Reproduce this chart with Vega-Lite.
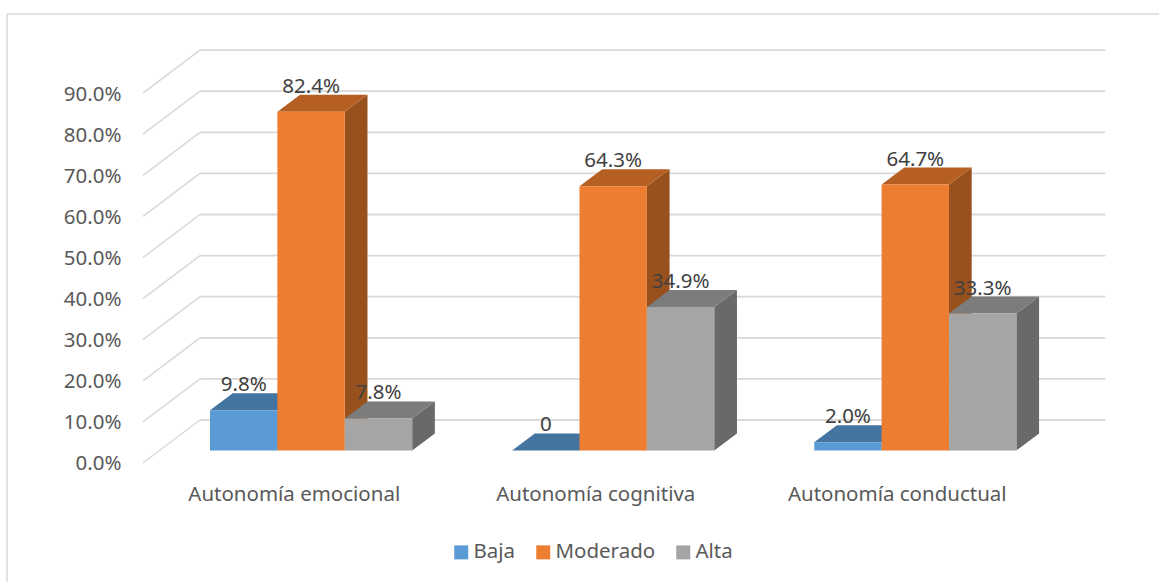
{
"$schema":"https://vega.github.io/schema/vega-lite/v6.json",
"width":964.8,"height":411,
"autosize":{"type":"none"},
"padding":{"left":143,"top":52,"right":51,"bottom":119},
"background":"white",
"config":{"view":{"stroke":null},"font":"Noto Sans","text":{"font":"Noto Sans"},"axis":{"grid":false,"domain":false,"ticks":false,"title":null}},
"datasets":{
"barras":[
{"categoria":"Autonomía emocional","nivel":"Baja","valor":0.098,"etiqueta":"9.8%"},
{"categoria":"Autonomía emocional","nivel":"Moderado","valor":0.824,"etiqueta":"82.4%"},
{"categoria":"Autonomía emocional","nivel":"Alta","valor":0.078,"etiqueta":"7.8%"},
{"categoria":"Autonomía cognitiva","nivel":"Baja","valor":0,"etiqueta":"0"},
{"categoria":"Autonomía cognitiva","nivel":"Moderado","valor":0.643,"etiqueta":"64.3%"},
{"categoria":"Autonomía cognitiva","nivel":"Alta","valor":0.349,"etiqueta":"34.9%"},
{"categoria":"Autonomía conductual","nivel":"Baja","valor":0.02,"etiqueta":"2.0%"},
{"categoria":"Autonomía conductual","nivel":"Moderado","valor":0.647,"etiqueta":"64.7%"},
{"categoria":"Autonomía conductual","nivel":"Alta","valor":0.333,"etiqueta":"33.3%"}
],
"marcas":[{"v":0},{"v":0.1},{"v":0.2},{"v":0.3},{"v":0.4},{"v":0.5},{"v":0.6},{"v":0.7},{"v":0.8},{"v":0.9}]
},
"data":{"name":"barras"},
"transform":[
{"calculate":"indexof(['Autonomía emocional','Autonomía cognitiva','Autonomía conductual'],datum.categoria)","as":"i"},
{"calculate":"indexof(['Baja','Moderado','Alta'],datum.nivel)","as":"s"},
{"calculate":"datum.i*1.002+0.5575+(datum.s-1.5)*0.2235","as":"xl"},
{"calculate":"datum.xl+0.2235","as":"xr"},
{"calculate":"0.0305","as":"y0"},
{"calculate":"datum.valor+0.0305","as":"y1"}
],
"layer":[
{"data":{"name":"marcas"},
 "transform":[{"calculate":"datum.v+0.1046","as":"vb"},{"calculate":"0.189","as":"xa"},{"calculate":"3.192","as":"xb"}],
 "mark":{"type":"rule","color":"#D9D9D9","strokeWidth":1.8},
 "encoding":{
  "x":{"field":"xa","type":"quantitative","scale":{"domain":[0,3.2],"nice":false,"zero":false},
   "axis":{"title":null,"values":[0.5,1.5,2.5],"labelExpr":"['Autonomía emocional','Autonomía cognitiva','Autonomía conductual'][floor(datum.value)]","domain":false,"ticks":false,"grid":false,"labelFontSize":20.5,"labelColor":"#595959","labelPadding":22,"labelFont":"Noto Sans","labelOverlap":false,"labelLimit":500}},
  "x2":{"field":"xb"},
  "y":{"field":"vb","type":"quantitative","scale":{"domain":[0,1],"nice":false,"zero":false},
   "axis":{"title":null,"values":[0,0.1,0.2,0.3,0.4,0.5,0.6,0.7,0.8,0.9],"format":".1%","domain":false,"ticks":false,"grid":false,"labelFontSize":20.5,"labelColor":"#595959","labelPadding":22,"labelOffset":1,"labelFont":"Noto Sans"}}}},
{"data":{"values":[{}]},"mark":{"type":"rule","color":"#D9D9D9","strokeWidth":1.5,"clip":false},
 "encoding":{
  "x":{"datum":-0.451,"type":"quantitative","scale":{"domain":[0,3.2],"nice":false,"zero":false}},
  "y":{"datum":-0.29,"type":"quantitative","scale":{"domain":[0,1],"nice":false,"zero":false}},
  "y2":{"datum":1.0925}}},
{"data":{"values":[{}]},"mark":{"type":"rule","color":"#D9D9D9","strokeWidth":1.5,"clip":false},
 "encoding":{
  "x":{"datum":-0.451,"type":"quantitative","scale":{"domain":[0,3.2],"nice":false,"zero":false}},
  "x2":{"datum":3.37},
  "y":{"datum":1.0925,"type":"quantitative","scale":{"domain":[0,1],"nice":false,"zero":false}}}},
{"data":{"name":"marcas"},
 "transform":[{"calculate":"datum.v+0.1046","as":"vb"},{"calculate":"0","as":"xa"},{"calculate":"0.189","as":"xb"}],
 "mark":{"type":"rule","color":"#D9D9D9","strokeWidth":1.5},
 "encoding":{
  "x":{"field":"xa","type":"quantitative","scale":{"domain":[0,3.2],"nice":false,"zero":false}},
  "x2":{"field":"xb"},
  "y":{"field":"v","type":"quantitative","scale":{"domain":[0,1],"nice":false,"zero":false}},
  "y2":{"field":"vb"}}},
{"transform":[{"calculate":"[0,1]","as":"d"},{"flatten":["d"]},
  {"calculate":"datum.xr+datum.d*0.0753","as":"xs"},
  {"calculate":"datum.y0+datum.d*0.0414","as":"ya"},
  {"calculate":"datum.y1+datum.d*0.0414","as":"yb"}],
 "mark":{"type":"area","orient":"vertical"},
 "encoding":{
  "x":{"field":"xs","type":"quantitative","scale":{"domain":[0,3.2],"nice":false,"zero":false}},
  "y":{"field":"ya","type":"quantitative","scale":{"domain":[0,1],"nice":false,"zero":false}},
  "y2":{"field":"yb"},
  "detail":{"field":"categoria"},
  "color":{"field":"nivel","type":"nominal","scale":{"domain":["Baja","Moderado","Alta"],"range":["#376092","#98501C","#696969"]},"legend":null}}},
{"transform":[{"calculate":"[0,1]","as":"d"},{"flatten":["d"]},
  {"calculate":"datum.xl+datum.d*0.0753","as":"xa"},
  {"calculate":"datum.xr+datum.d*0.0753","as":"xb"},
  {"calculate":"datum.y1+datum.d*0.0414","as":"yt"}],
 "mark":{"type":"area","orient":"horizontal"},
 "encoding":{
  "x":{"field":"xa","type":"quantitative","scale":{"domain":[0,3.2],"nice":false,"zero":false}},
  "x2":{"field":"xb"},
  "y":{"field":"yt","type":"quantitative","scale":{"domain":[0,1],"nice":false,"zero":false}},
  "detail":{"field":"categoria"},
  "color":{"field":"nivel","type":"nominal","scale":{"domain":["Baja","Moderado","Alta"],"range":["#4474A0","#B55F22","#7C7C7C"]},"legend":null}}},
{"mark":{"type":"rect"},
 "encoding":{
  "x":{"field":"xl","type":"quantitative","scale":{"domain":[0,3.2],"nice":false,"zero":false}},
  "x2":{"field":"xr"},
  "y":{"field":"y0","type":"quantitative","scale":{"domain":[0,1],"nice":false,"zero":false}},
  "y2":{"field":"y1"},
  "color":{"field":"nivel","type":"nominal","scale":{"domain":["Baja","Moderado","Alta"],"range":["#5B9BD5","#ED7D31","#A5A5A5"]},
   "legend":{"title":null,"orient":"none","legendX":308,"legendY":490,"direction":"horizontal","columns":3,"symbolType":"square","symbolSize":196,"symbolStrokeWidth":0,"labelFontSize":20.5,"labelColor":"#595959","labelFont":"Noto Sans","columnPadding":17,"labelOffset":2}}}},
{"transform":[{"calculate":"(datum.xl+datum.xr)/2","as":"xc"}],
 "mark":{"type":"text","fontSize":20.5,"color":"#404040","dy":-25,"baseline":"middle","align":"center"},
 "encoding":{
  "x":{"field":"xc","type":"quantitative","scale":{"domain":[0,3.2],"nice":false,"zero":false}},
  "y":{"field":"y1","type":"quantitative","scale":{"domain":[0,1],"nice":false,"zero":false}},
  "text":{"field":"etiqueta"}}}
],
"resolve":{"scale":{"color":"independent"}}
}
